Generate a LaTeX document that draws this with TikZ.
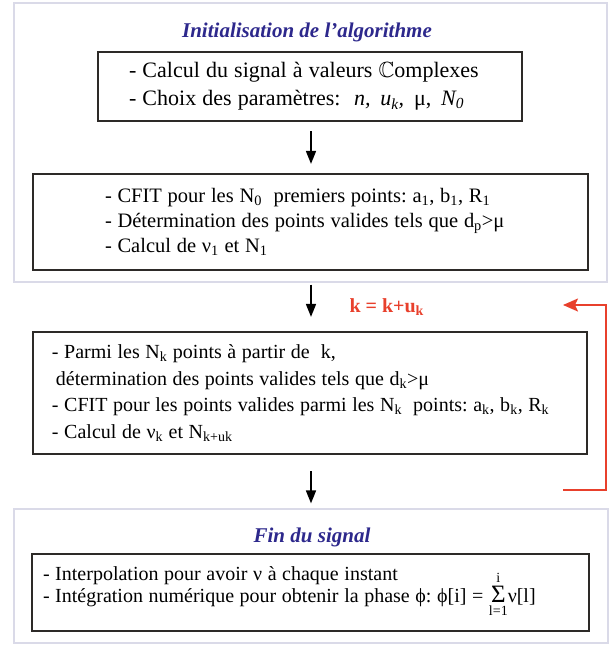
\documentclass[tikz,border=0pt]{standalone}
\usepackage{amsmath,amssymb}
\usepackage{fontspec}
\setmainfont{Liberation Serif}
\usetikzlibrary{arrows.meta,positioning}
\definecolor{titleblue}{RGB}{45,40,140}
\definecolor{loopred}{RGB}{232,64,44}
\definecolor{panelgray}{RGB}{218,218,232}
\definecolor{boxgray}{RGB}{45,42,40}
\newcommand{\ix}[1]{\textsubscript{#1}}
\newcommand{\boxfont}[2]{\fontsize{#1}{#2}\selectfont\spaceskip=.28em\xspaceskip=.28em}
\tikzset{
    panel/.style={
        rectangle,
        draw=panelgray,
        line width=1.2pt,
        inner sep=0pt
    },
    steptitle/.style={
        text=titleblue,
        font=\fontsize{21}{24}\selectfont\bfseries\itshape
    },
    stepbox/.style={
        rectangle,
        draw=boxgray,
        line width=2.2pt,
        align=left,
        inner ysep=0pt
    },
    flow/.style={
        -{Triangle[length=13pt,width=10pt]},
        line width=1.6pt
    },
    loopback/.style={
        -{Stealth[length=15pt,width=13pt,inset=3pt]},
        loopred,
        line width=1.8pt
    }
}

\begin{document}
\begin{tikzpicture}[x=1pt,y=-1pt]
    \useasboundingbox (0,0) rectangle (614,646);

    % Initialisation
    \node[panel, minimum width=593pt, minimum height=279pt] (initpanel) at (310.5,142.5) {};
    \node[steptitle] (inittitle) at (307,32) {Initialisation de l’algorithme};
    \node[stepbox, minimum width=424pt, minimum height=69pt, text width=362pt, inner xsep=31pt] (params) at (310,86.5)
        {\boxfont{22}{28}%
         - Calcul du signal à valeurs $\mathbb{C}$omplexes\\
         - Choix des paramètres:\,\, \textit{n,\, u\ix{k},}\, μ,\, \textit{N\ix{0}}\par};
    \node[stepbox, minimum width=555pt, minimum height=96pt, text width=411pt, inner xsep=72pt] (firstfit) at (310.5,222)
        {\boxfont{20.5}{25}%
         - CFIT pour les N\ix{0}~ premiers points: a\ix{1}, b\ix{1}, R\ix{1}\\
         - Détermination des points valides tels que d\ix{p}>μ\\
         - Calcul de ν\ix{1} et N\ix{1}\par};
    \draw[flow, shorten <=9pt, shorten >=9pt] (params.south -| 311,0) -- (firstfit.north -| 311,0);

    % Iteration
    \node[stepbox, minimum width=554pt, minimum height=122pt, text width=516pt, inner xsep=19pt] (iterfit) at (310,393)
        {\boxfont{20}{26.5}%
         - Parmi les N\ix{k} points à partir de~ k,\\
         \hspace*{4pt}détermination des points valides tels que d\ix{k}>μ\\
         - CFIT pour les points valides parmi les N\ix{k}~ points: a\ix{k}, b\ix{k}, R\ix{k}\\
         - Calcul de ν\ix{k} et N\ix{k+uk}\par};
    \draw[flow, shorten <=2pt, shorten >=14pt] (initpanel.south -| 311,0) -- (iterfit.north -| 311,0);
    \node[anchor=west, text=loopred, font=\fontsize{20}{22}\selectfont\bfseries] (kupdate) at (346,307) {k = k+u\ix{k}};
    \coordinate (loopout) at (563,490);
    \coordinate (loopin) at (563,305);
    \draw[loopback] (loopout) -- ++(43,0) |- (loopin);

    % Fin du signal
    \node[panel, minimum width=594pt, minimum height=134pt] (endpanel) at (311,576) {};
    \node[steptitle] (endtitle) at (312,537) {Fin du signal};
    \node[stepbox, minimum width=557pt, minimum height=77pt, text width=535pt, inner xsep=11pt] (phase) at (310.5,592.5)
        {\boxfont{20}{22}\lineskiplimit=-\maxdimen
         - Interpolation pour avoir ν à chaque instant\\
         - Intégration numérique pour obtenir la phase ϕ: ϕ[i] = $\mathop{\hbox{\fontsize{25}{25}\selectfont Σ}}\limits_{\text{l=1}}^{\text{i}}$ν[l]\par};
    \draw[flow, shorten <=16pt, shorten >=5pt] (iterfit.south -| 311,0) -- (endpanel.north -| 311,0);
\end{tikzpicture}
\end{document}
